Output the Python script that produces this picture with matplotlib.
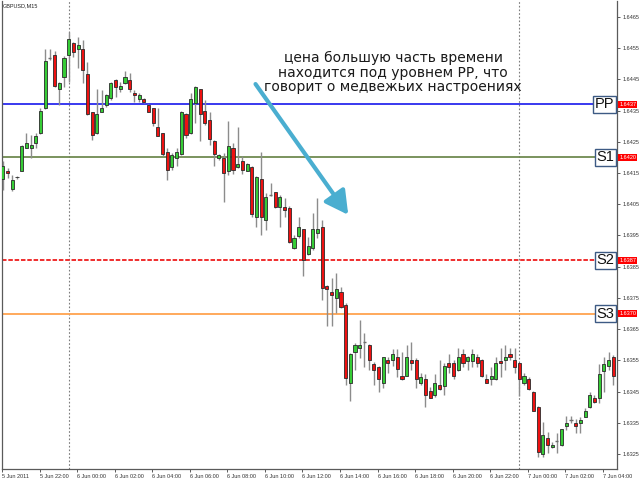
import matplotlib
matplotlib.use("Agg")
import matplotlib.pyplot as plt
from matplotlib.transforms import blended_transform_factory

# GBPUSD M15 candles, 5 Jun 2011 evening .. 7 Jun 2011 morning
opens = [
    1.64130, 1.64158, 1.64098, 1.64136, 1.64158, 1.64229, 1.64229, 1.64247, 1.64278, 1.64358,
    1.64518, 1.64528, 1.64419, 1.64459, 1.64528, 1.64568, 1.64547, 1.64547, 1.64467, 1.64346,
    1.64277, 1.64346, 1.64368, 1.64390, 1.64448, 1.64418, 1.64438, 1.64448, 1.64407, 1.64388,
    1.64387, 1.64368, 1.64357, 1.64299, 1.64277, 1.64218, 1.64169, 1.64197, 1.64211, 1.64339,
    1.64277, 1.64375, 1.64418, 1.64348, 1.64319, 1.64251, 1.64197, 1.64197, 1.64158, 1.64229,
    1.64169, 1.64190, 1.64158, 1.64169, 1.64010, 1.64130, 1.63999, 1.64080, 1.64088, 1.64042,
    1.64041, 1.64038, 1.63910, 1.63949, 1.63970, 1.63891, 1.63910, 1.63957, 1.63978, 1.63788,
    1.63769, 1.63749, 1.63769, 1.63727, 1.63478, 1.63578, 1.63589, 1.63609, 1.63599, 1.63538,
    1.63530, 1.63478, 1.63551, 1.63551, 1.63560, 1.63501, 1.63501, 1.63551, 1.63551, 1.63478,
    1.63490, 1.63452, 1.63439, 1.63471, 1.63468, 1.63541, 1.63541, 1.63519, 1.63570, 1.63549,
    1.63549, 1.63560, 1.63551, 1.63490, 1.63490, 1.63490, 1.63549, 1.63550, 1.63570, 1.63551,
    1.63540, 1.63478, 1.63490, 1.63450, 1.63402, 1.63250, 1.63300, 1.63271, 1.63292, 1.63279,
    1.63340, 1.63359, 1.63350, 1.63350, 1.63370, 1.63400, 1.63428, 1.63431, 1.63517, 1.63532,
    1.63560,
]
highs = [
    1.64187, 1.64166, 1.64144, 1.64139, 1.64240, 1.64278, 1.64272, 1.64277, 1.64358, 1.64547,
    1.64547, 1.64542, 1.64440, 1.64525, 1.64603, 1.64571, 1.64587, 1.64576, 1.64507, 1.64346,
    1.64419, 1.64416, 1.64403, 1.64443, 1.64451, 1.64443, 1.64478, 1.64470, 1.64416, 1.64405,
    1.64389, 1.64370, 1.64358, 1.64357, 1.64278, 1.64229, 1.64213, 1.64229, 1.64349, 1.64343,
    1.64407, 1.64429, 1.64419, 1.64384, 1.64346, 1.64256, 1.64211, 1.64213, 1.64318, 1.64245,
    1.64299, 1.64205, 1.64183, 1.64173, 1.64141, 1.64218, 1.64085, 1.64118, 1.64089, 1.64080,
    1.64069, 1.64043, 1.63952, 1.64008, 1.63971, 1.63946, 1.64021, 1.64069, 1.63999, 1.63790,
    1.63813, 1.63829, 1.63786, 1.63733, 1.63572, 1.63605, 1.63679, 1.63639, 1.63601, 1.63546,
    1.63531, 1.63562, 1.63562, 1.63585, 1.63585, 1.63578, 1.63599, 1.63609, 1.63556, 1.63509,
    1.63506, 1.63466, 1.63506, 1.63551, 1.63541, 1.63570, 1.63551, 1.63589, 1.63585, 1.63564,
    1.63585, 1.63570, 1.63553, 1.63506, 1.63530, 1.63562, 1.63589, 1.63599, 1.63589, 1.63588,
    1.63541, 1.63509, 1.63496, 1.63452, 1.63403, 1.63354, 1.63321, 1.63289, 1.63316, 1.63330,
    1.63372, 1.63372, 1.63361, 1.63370, 1.63396, 1.63450, 1.63439, 1.63538, 1.63560, 1.63578,
    1.63567,
]
lows = [
    1.64096, 1.64134, 1.64094, 1.64131, 1.64155, 1.64229, 1.64197, 1.64229, 1.64275, 1.64355,
    1.64512, 1.64427, 1.64368, 1.64427, 1.64443, 1.64523, 1.64486, 1.64438, 1.64336, 1.64256,
    1.64275, 1.64345, 1.64363, 1.64384, 1.64394, 1.64411, 1.64435, 1.64411, 1.64379, 1.64379,
    1.64375, 1.64345, 1.64301, 1.64267, 1.64205, 1.64128, 1.64160, 1.64171, 1.64208, 1.64261,
    1.64275, 1.64309, 1.64251, 1.64304, 1.64240, 1.64173, 1.64192, 1.64058, 1.64144, 1.64147,
    1.64166, 1.64147, 1.64155, 1.64010, 1.63978, 1.63952, 1.63968, 1.64075, 1.64038, 1.63978,
    1.64010, 1.63926, 1.63907, 1.63942, 1.63820, 1.63888, 1.63904, 1.63942, 1.63743, 1.63660,
    1.63660, 1.63701, 1.63718, 1.63471, 1.63421, 1.63519, 1.63556, 1.63530, 1.63519, 1.63471,
    1.63450, 1.63461, 1.63509, 1.63532, 1.63496, 1.63488, 1.63499, 1.63519, 1.63461, 1.63471,
    1.63400, 1.63428, 1.63434, 1.63455, 1.63439, 1.63509, 1.63490, 1.63516, 1.63530, 1.63519,
    1.63530, 1.63530, 1.63498, 1.63477, 1.63471, 1.63487, 1.63498, 1.63519, 1.63551, 1.63510,
    1.63436, 1.63471, 1.63455, 1.63388, 1.63240, 1.63240, 1.63252, 1.63269, 1.63252, 1.63277,
    1.63327, 1.63350, 1.63318, 1.63318, 1.63369, 1.63396, 1.63412, 1.63412, 1.63450, 1.63519,
    1.63471,
]
closes = [
    1.64171, 1.64149, 1.64128, 1.64138, 1.64238, 1.64247, 1.64240, 1.64269, 1.64349, 1.64509,
    1.64518, 1.64429, 1.64438, 1.64518, 1.64578, 1.64539, 1.64560, 1.64480, 1.64339, 1.64272,
    1.64338, 1.64358, 1.64400, 1.64438, 1.64427, 1.64429, 1.64459, 1.64418, 1.64399, 1.64399,
    1.64379, 1.64346, 1.64309, 1.64269, 1.64210, 1.64160, 1.64208, 1.64218, 1.64346, 1.64272,
    1.64386, 1.64427, 1.64339, 1.64309, 1.64258, 1.64211, 1.64208, 1.64149, 1.64238, 1.64160,
    1.64179, 1.64160, 1.64179, 1.64019, 1.64138, 1.64010, 1.64072, 1.64080, 1.64041, 1.64074,
    1.64030, 1.63928, 1.63942, 1.63978, 1.63870, 1.63917, 1.63970, 1.63970, 1.63781, 1.63779,
    1.63759, 1.63779, 1.63720, 1.63492, 1.63570, 1.63599, 1.63599, 1.63609, 1.63551, 1.63519,
    1.63490, 1.63560, 1.63541, 1.63570, 1.63521, 1.63490, 1.63560, 1.63541, 1.63490, 1.63497,
    1.63439, 1.63430, 1.63478, 1.63459, 1.63532, 1.63530, 1.63501, 1.63560, 1.63541, 1.63560,
    1.63570, 1.63541, 1.63500, 1.63478, 1.63500, 1.63541, 1.63541, 1.63561, 1.63560, 1.63530,
    1.63490, 1.63500, 1.63457, 1.63389, 1.63257, 1.63311, 1.63279, 1.63279, 1.63292, 1.63329,
    1.63350, 1.63359, 1.63340, 1.63359, 1.63389, 1.63439, 1.63418, 1.63506, 1.63538, 1.63551,
    1.63500,
]

# pivot levels
level_names = ["PP", "S1", "S2", "S3"]
level_values = [1.6437, 1.6420, 1.6387, 1.6370]
level_colors = ["#2a2aee", "#6f8a50", "#ee1c1c", "#ffa24e"]
level_styles = ["-", "-", (0, (2.5, 1)), "-"]

# bars where a new trading day starts (period separators)
day_start_bars = [14, 110]

price_ticks = [1.6325, 1.6335, 1.6345, 1.6355, 1.6365, 1.6375, 1.6385, 1.6395,
               1.6405, 1.6415, 1.6425, 1.6435, 1.6445, 1.6455, 1.6465]
time_labels = ["5 Jun 2011", "5 Jun 22:00", "6 Jun 00:00", "6 Jun 02:00", "6 Jun 04:00",
               "6 Jun 06:00", "6 Jun 08:00", "6 Jun 10:00", "6 Jun 12:00", "6 Jun 14:00",
               "6 Jun 16:00", "6 Jun 18:00", "6 Jun 20:00", "6 Jun 22:00", "7 Jun 00:00",
               "7 Jun 02:00", "7 Jun 04:00"]
symbol = "GBPUSD,M15"
note = ("цена большую часть времени\n"
        "находится под уровнем PP, что\n"
        "говорит о медвежьих настроениях")

UP = "#36cc36"
DOWN = "#ee1111"
EDGE = "#2a2a2a"
WICK = "#8c8c8c"
AXIS = "#5a5a5a"
SMALL_FONT = "Liberation Sans"

fig = plt.figure(figsize=(6.4, 4.8), dpi=100)
fig.patch.set_facecolor("white")
ax = fig.add_axes([2 / 640, 11 / 480, 615 / 640, 468 / 480])
ax.set_facecolor("white")

n = len(opens)
xs = list(range(n))
ax.set_xlim(-0.06, n - 0.2)
ax.set_ylim(1.63202, 1.64701)

# day separators
for b in day_start_bars:
    ax.axvline(b, color="#7c7c7c", lw=0.8, ls=(0, (1.5, 1.8)), zorder=1)

# pivot lines
for v, c, s in zip(level_values, level_colors, level_styles):
    ax.axhline(v, color=c, lw=1.3, ls=s, zorder=2)

# candles
ax.vlines(xs, lows, highs, color=WICK, lw=1.0, zorder=3)
body_w = 0.66
for i, (o, c) in enumerate(zip(opens, closes)):
    if c > o:
        ax.bar(i, c - o, bottom=o, width=body_w, color=UP, edgecolor=EDGE, lw=0.6, zorder=4)
    elif c < o:
        ax.bar(i, o - c, bottom=c, width=body_w, color=DOWN, edgecolor=EDGE, lw=0.6, zorder=4)
    else:
        ax.hlines(o, i - body_w / 2, i + body_w / 2, color="#6e6e6e", lw=1.0, zorder=4)

# axes frame and ticks
ax.spines["top"].set_visible(False)
for side in ("left", "right", "bottom"):
    ax.spines[side].set_color(AXIS)
    ax.spines[side].set_linewidth(0.9)

ax.yaxis.tick_right()
ax.set_yticks(price_ticks)
ax.set_yticklabels([f"{p:.4f}" for p in price_ticks])
ax.tick_params(axis="y", direction="out", length=2.5, width=0.7, colors=AXIS,
               labelcolor="#333333", labelsize=4, pad=1.2)

first_tick = day_start_bars[0] + 1.8 - 16
ax.set_xticks([first_tick + 8 * k for k in range(len(time_labels))])
ax.set_xticklabels(time_labels, ha="left")
ax.tick_params(axis="x", direction="out", length=2.5, width=0.7, colors=AXIS,
               labelcolor="#333333", labelsize=4, pad=1.0)
for lab in ax.get_xticklabels() + ax.get_yticklabels():
    lab.set_fontfamily(SMALL_FONT)

# level value tags on the price scale and level name boxes
ytrans = blended_transform_factory(ax.transAxes, ax.transData)
for name, v in zip(level_names, level_values):
    ax.text(1.0 + 2.2 / 615, v, f"{v:.4f}", transform=ytrans, ha="left", va="center",
            fontsize=4, family=SMALL_FONT, color="white", zorder=6, clip_on=False,
            bbox=dict(boxstyle="square,pad=0.2", fc="#ff0000", ec="none"))
    ax.text(1.0 - 2.5 / 615, v, name, transform=ytrans, ha="right", va="center",
            fontsize=10.5, family=SMALL_FONT, color="#111111", zorder=6,
            bbox=dict(boxstyle="square,pad=0.12", fc="white", ec="#3d5a84", lw=1.0))

# symbol caption
fig.text(3 / 640, 1 - 5.5 / 480, symbol, ha="left", va="center", fontsize=4,
         family=SMALL_FONT, color="#222222")

# comment and arrow
fig.text(393 / 640, 1 - 72.5 / 480, note, ha="center", va="center", fontsize=10,
         linespacing=1.04, color="#1a1a1a", family="DejaVu Sans")
ax.annotate("", xy=(73.55, 1.64016), xytext=(53.8, 1.64435),
            arrowprops=dict(arrowstyle="-|>,head_length=0.7,head_width=0.38", lw=3.0,
                            color="#4aaed0", mutation_scale=20, shrinkA=0, shrinkB=0),
            zorder=7)

fig.savefig("out.png", dpi=100, facecolor="white")
